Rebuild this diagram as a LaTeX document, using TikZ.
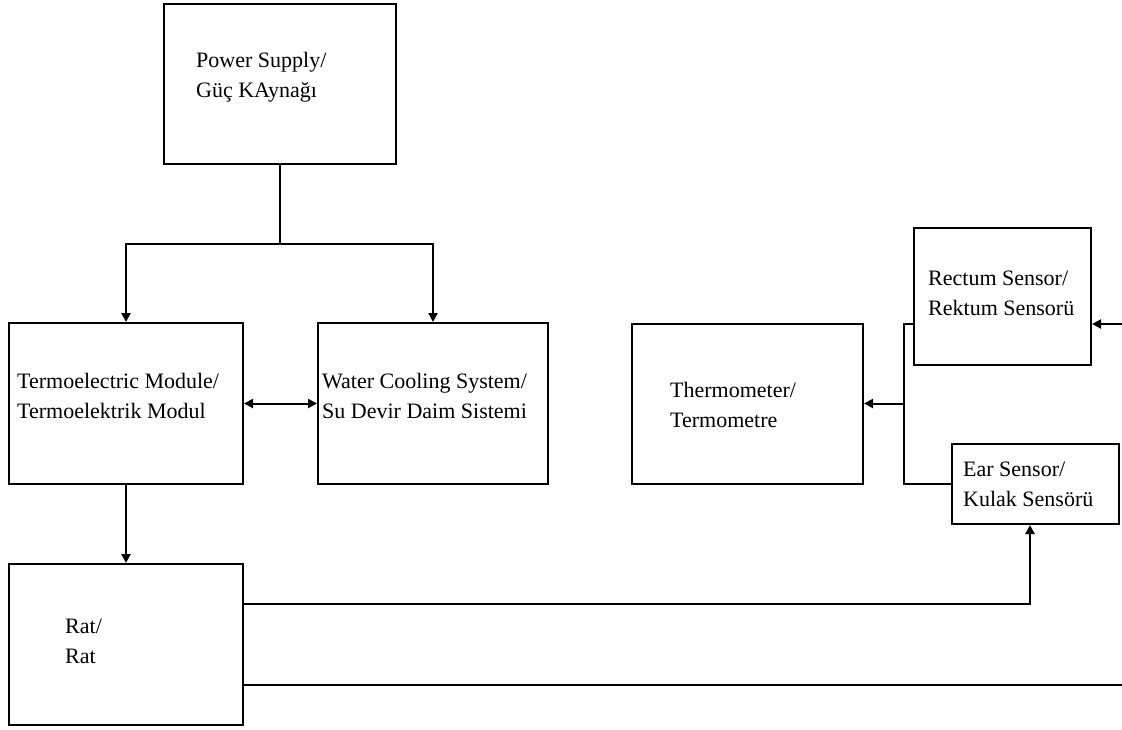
\documentclass[tikz,border=0pt]{standalone}
\usepackage{fontspec}
\setmainfont{Liberation Serif}
\usetikzlibrary{arrows.meta}
\newcommand{\twoln}[2]{\vtop{\hbox{#1}\hbox{#2}}}
\begin{document}
\begin{tikzpicture}[x=1pt,y=-1pt,
  boxnode/.style={draw,line width=2pt,rectangle,inner sep=0pt},
  txt/.style={inner sep=0pt,anchor=base west,font=\fontsize{22}{30}\selectfont},
  conn/.style={line width=2pt},
  arr/.style={conn,-{Triangle[length=9pt,width=9pt]}},
  darr/.style={conn,{Triangle[length=9pt,width=9pt]}-{Triangle[length=9pt,width=9pt]}}]
\useasboundingbox[fill=white] (0,0) rectangle (1122,729);
% boxes
\node[boxnode,minimum width=232pt,minimum height=160pt] (ps) at (280,84) {};
\node[boxnode,minimum width=234pt,minimum height=161pt] (tm) at (126,403.5) {};
\node[boxnode,minimum width=230pt,minimum height=161pt] (wc) at (433,403.5) {};
\node[boxnode,minimum width=231pt,minimum height=160pt] (th) at (747.5,403.5) {};
\node[boxnode,minimum width=177pt,minimum height=137pt] (rs) at (1002.5,296.5) {};
\node[boxnode,minimum width=167pt,minimum height=80pt] (es) at (1035.5,484) {};
\node[boxnode,minimum width=234pt,minimum height=161pt] (rat) at (126,644.5) {};
% texts
\node[txt] (pst) at (196,67) {\twoln{Power Supply/}{Güç KAynağı}};
\node[txt] (tmt) at (17,388) {\twoln{Termoelectric Module/}{Termoelektrik Modul}};
\node[txt] (wct) at (322,388) {\twoln{Water Cooling System/}{Su Devir Daim Sistemi}};
\node[txt] (tht) at (670,397) {\twoln{Thermometer/}{Termometre}};
\node[txt] (rst) at (928,285) {\twoln{Rectum Sensor/}{Rektum Sensorü}};
\node[txt] (est) at (963,476) {\twoln{Ear Sensor/}{Kulak Sensörü}};
\node[txt] (ratt) at (65,633) {\twoln{Rat/}{Rat}};
% coordinates
\coordinate (jp) at (280,244);
\coordinate (jt) at (904,403.5);
\coordinate (edgeB) at (1122,685);
\coordinate (edgeT) at (1122,324);
% connectors
\draw[conn] (ps.south) -- (jp);
\draw[arr] (jp) -| (tm.north);
\draw[arr] (jp) -| (wc.north);
\draw[darr] (tm.east) -- (wc.west);
\draw[arr] (tm.south) -- (rat.north);
\draw[arr] ([yshift=40.5pt]rat.east) -| ([xshift=-5.5pt]es.south);
\draw[conn] ([yshift=-40.5pt]rat.east) -- (edgeB);
\draw[arr] (edgeT) -- (rs.east |- edgeT);
\draw[conn] (rs.west |- edgeT) -- (jt |- edgeT) |- (es.west);
\draw[arr] (jt) -- (th.east);
\end{tikzpicture}
\end{document}
